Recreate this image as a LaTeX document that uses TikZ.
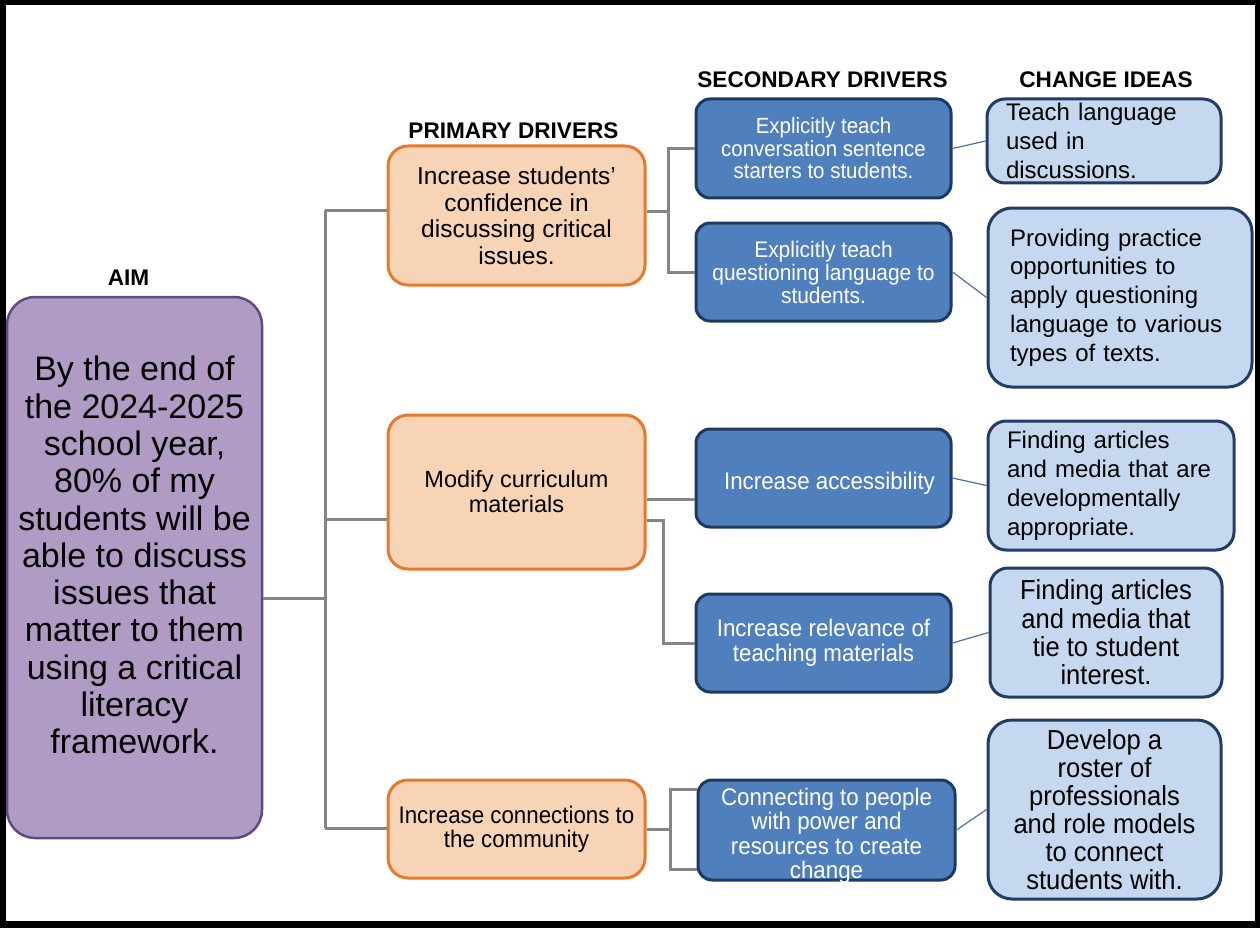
\documentclass[tikz,border=0pt]{standalone}
\usepackage{fontspec}
\setmainfont{Liberation Sans}
\newfontfamily\nar[FakeStretch=0.93]{Liberation Sans}
\definecolor{aimfill}{HTML}{B09BC5}
\definecolor{aimdraw}{HTML}{5E4B82}
\definecolor{ofill}{HTML}{F8D4B6}
\definecolor{odraw}{HTML}{E8782A}
\definecolor{bfill}{HTML}{4F80BD}
\definecolor{bdraw}{HTML}{1E3A5F}
\definecolor{lfill}{HTML}{C5D8F0}
\definecolor{ldraw}{HTML}{213D63}
\definecolor{gcol}{HTML}{858585}
\definecolor{tcol}{HTML}{4A72A8}
\begin{document}
\begin{tikzpicture}[x=1pt,y=-1pt,
  aimbox/.style={draw=aimdraw, fill=aimfill, line width=2.5pt, rounded corners=28pt, inner sep=0pt, align=center},
  pbox/.style={draw=odraw, fill=ofill, line width=3pt, rounded corners=20pt, minimum width=257pt, inner sep=0pt, align=center},
  sbox/.style={draw=bdraw, fill=bfill, line width=3pt, rounded corners=14pt, text=white, inner sep=0pt, align=center, minimum width=255pt},
  cbox/.style={draw=ldraw, fill=lfill, line width=3pt, rounded corners=18pt, inner sep=0pt},
  hdr/.style={font=\fontsize{22.6}{27}\selectfont\bfseries, inner sep=0pt},
  gline/.style={draw=gcol, line width=3pt},
  tline/.style={draw=tcol, line width=1.2pt}]
\useasboundingbox (0,0) rectangle (1260,928);
\fill[black] (0,0) rectangle (1260,928);
\fill[white] (6,5) rectangle (1255,921);

% headers
\node[hdr] (haim) at (128.5,278) {AIM};
\node[hdr] (hpri) at (513.5,131) {PRIMARY DRIVERS};
\node[hdr] (hsec) at (822.5,80) {SECONDARY DRIVERS};
\node[hdr] (hchg) at (1106,80) {CHANGE IDEAS};

% aim
\node[aimbox, minimum width=255pt, minimum height=541pt, font=\fontsize{34}{37.3}\selectfont] (aim) at (134.5,567.5)
 {By the end of\\the 2024-2025\\school year,\\80\% of my\\students will be\\able to discuss\\issues that\\matter to them\\using a critical\\literacy\\framework.\rule[-25pt]{0pt}{1pt}};

% primary drivers
\node[pbox, minimum height=139pt, font=\fontsize{24.5}{26.5}\selectfont] (p1) at (516.5,215.5)
 {Increase students’\\confidence in\\discussing critical\\issues.};
\node[pbox, minimum height=154pt, font=\fontsize{23.5}{25}\selectfont] (p2) at (516.5,492)
 {Modify curriculum\\materials};
\node[pbox, minimum height=98pt, font=\nar\fontsize{24}{24}\selectfont] (p3) at (516.5,829)
 {Increase connections to\\the community};

% secondary drivers
\node[sbox, minimum height=99pt, font=\nar\fontsize{22}{22.5}\selectfont] (s1) at (823.5,148.5)
 {Explicitly teach\\conversation sentence\\starters to students.};
\node[sbox, minimum height=98pt, font=\nar\fontsize{22.5}{23}\selectfont] (s2) at (823.5,272)
 {Explicitly teach\\questioning language to\\students.};
\node[sbox, minimum height=98pt, font=\nar\fontsize{24}{25}\selectfont] (s3) at (823.5,478)
 {\hspace*{12pt}\rule{0pt}{27.5pt}Increase accessibility};
\node[sbox, minimum height=98pt, font=\nar\fontsize{24}{25}\selectfont] (s4) at (823.5,643)
 {Increase relevance of\\teaching materials};
\node[sbox, minimum width=257pt, minimum height=100pt, font=\nar\fontsize{24}{24.3}\selectfont] (s5) at (826.5,830)
 {\rule{0pt}{24pt}Connecting to people\\with power and\\resources to create\\\raisebox{0pt}[\height][0pt]{change}};

% change ideas
\node[cbox, minimum width=234pt, minimum height=84pt, text width=196pt, align=left, font=\fontsize{24}{29}\selectfont] (c1) at (1104,141)
 {Teach language\\used in\\discussions.};
\node[cbox, rounded corners=24pt, minimum width=264pt, minimum height=179pt, text width=220pt, align=left, font=\fontsize{24}{28.8}\selectfont] (c2) at (1120,297.5)
 {Providing practice\\opportunities to\\apply questioning\\language to various\\types of texts.};
\node[cbox, minimum width=246pt, minimum height=129pt, text width=208pt, align=left, font=\fontsize{24}{29}\selectfont] (c3) at (1111,485.5)
 {Finding articles\\and media that are\\developmentally\\appropriate.};
\node[cbox, minimum width=232pt, minimum height=129pt, align=center, font=\nar\fontsize{27.5}{28.3}\selectfont] (c4) at (1106,632.5)
 {Finding articles\\and media that\\tie to student\\interest.};
\node[cbox, rounded corners=24pt, minimum width=233pt, minimum height=179pt, align=center, font=\nar\fontsize{27.5}{28}\selectfont] (c5) at (1104.5,809.5)
 {Develop a\\roster of\\professionals\\and role models\\to connect\\students with.};

% gray connectors: aim to primary
\coordinate (t1) at (325,210);
\coordinate (ta) at (325,598);
\coordinate (t2) at (325,519);
\coordinate (t3) at (325,828);
\draw[gline] (ta -| aim.east) -- (ta);
\draw[gline] (t1) -- (t3);
\draw[gline] (t1) -- (t1 -| p1.west);
\draw[gline] (t2) -- (t2 -| p2.west);
\draw[gline] (t3) -- (t3 -| p3.west);

% primary 1 to secondary
\coordinate (b1) at (670,211);
\draw[gline] (b1 -| p1.east) -- (b1);
\draw[gline] (s1.west) -- ++(-26,0) |- (s2.west);

% primary 2 to secondary
\coordinate (k1) at (670,499);
\coordinate (k2) at (663,520);
\draw[gline] (k1 -| p2.east) -- (k1 -| s3.west);
\draw[gline] (k2 -| p2.east) -- (k2) |- (s4.west);

% primary 3 to secondary
\coordinate (m1) at (670,829);
\coordinate (m2) at (670,789);
\coordinate (m3) at (670,869);
\draw[gline] (p3.east) -- (m1);
\draw[gline] (m2 -| s5.west) -- (m2) -- (m3) -- (m3 -| s5.west);

% thin connectors secondary to change ideas
\draw[tline] (s1.east) -- (c1.west);
\draw[tline] (s2.east) -- (c2.west);
\draw[tline] (s3.east) -- (c3.west);
\draw[tline] (s4.east) -- (c4.west);
\draw[tline] (s5.east) -- (c5.west);
\end{tikzpicture}
\end{document}
